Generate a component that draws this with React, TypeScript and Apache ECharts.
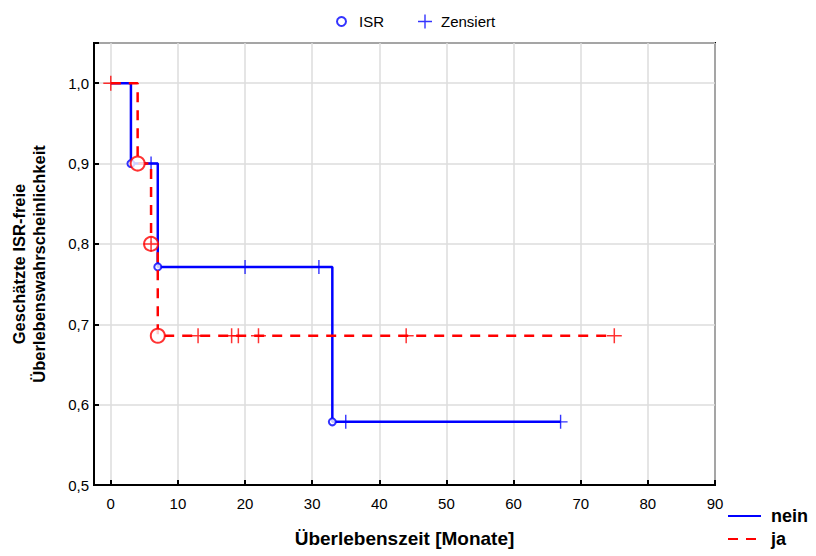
import React, { useEffect, useRef } from "react";
import * as echarts from "echarts";

// Kaplan-Meier step curves
const neinTimes = [0, 3, 7, 33, 67];
const neinSurv = [1.0, 0.9, 0.7714, 0.5786, 0.5786];
const jaTimes = [0, 4, 6, 7, 75];
const jaSurv = [1.0, 0.9, 0.8, 0.6857, 0.6857];

// ISR events (circles)
const neinEventTimes = [3, 7, 33];
const neinEventSurv = [0.9, 0.7714, 0.5786];
const jaEventTimes = [4, 6, 7];
const jaEventSurv = [0.9, 0.8, 0.6857];

// Censored (crosses)
const neinCensTimes = [6, 20, 31, 35, 67];
const neinCensSurv = [0.9, 0.7714, 0.7714, 0.5786, 0.5786];
const jaCensTimes = [0, 6, 13, 18, 19, 22, 44, 75];
const jaCensSurv = [1.0, 0.8, 0.6857, 0.6857, 0.6857, 0.6857, 0.6857, 0.6857];

const BLUE = "#0000ff";
const RED = "#ff0000";
const FONT = "Liberation Sans";
const PLUS = "path://M-0.1,-1H0.1V-0.1H1V0.1H0.1V1H-0.1V0.1H-1V-0.1H-0.1Z";

const zip = (a: number[], b: number[]) => a.map((v, i) => [v, b[i]]);

export default function App() {
  const ref = useRef<HTMLDivElement>(null);
  useEffect(() => {
    if (!ref.current) return;
    const chart = echarts.init(ref.current, undefined, { renderer: "svg" });
    chart.setOption({
      animation: false,
      backgroundColor: "#fff",
      textStyle: { fontFamily: FONT },
      grid: {
        left: 94,
        right: 101,
        top: 43,
        bottom: 71,
        show: true,
        borderColor: "#000",
        borderWidth: 2,
      },
      legend: [
        {
          data: ["ISR"],
          left: 331,
          top: 9,
          itemWidth: 25,
          itemHeight: 9,
          textStyle: { fontSize: 15, color: "#000", fontFamily: FONT },
        },
        {
          data: ["Zensiert"],
          left: 413,
          top: 9,
          itemWidth: 22,
          itemHeight: 14,
          textStyle: { fontSize: 15, color: "#000", fontFamily: FONT },
        },
        {
          data: ["nein", "ja"],
          orient: "vertical",
          left: 725,
          top: 505,
          padding: 2,
          itemWidth: 33,
          itemHeight: 14,
          itemGap: 5,
          itemStyle: { opacity: 0, color: "transparent", borderColor: "transparent", borderWidth: 0 },
          textStyle: { fontSize: 18, fontWeight: "bold", color: "#000", fontFamily: FONT, padding: [0, 0, 0, 5] },
        },
      ],
      xAxis: {
        type: "value",
        min: -2.5,
        max: 90,
        splitNumber: 9,
        name: "Überlebenszeit [Monate]",
        nameLocation: "middle",
        nameGap: 44,
        nameTextStyle: { fontSize: 19, fontWeight: "bold", color: "#000", fontFamily: FONT },
        axisLine: { onZero: false, lineStyle: { color: "#000", width: 2 } },
        axisTick: { inside: true, length: 5, lineStyle: { color: "#000", width: 2 } },
        axisLabel: {
          fontSize: 15,
          color: "#000",
          margin: 11,
          fontFamily: FONT,
          formatter: (v: number) => (v < 0 ? "" : String(v)),
        },
        splitLine: { show: true, lineStyle: { color: "#dcdcdc", width: 1.5 } },
      },
      yAxis: {
        type: "value",
        min: 0.5,
        max: 1.05,
        splitNumber: 5,
        name: "Geschätzte ISR-freie\nÜberlebenswahrscheinlichkeit",
        nameLocation: "middle",
        nameGap: 45,
        nameTextStyle: {
          fontSize: 16.5,
          fontWeight: "bold",
          color: "#000",
          lineHeight: 20,
          fontFamily: FONT,
        },
        axisLine: { show: true, onZero: false, lineStyle: { color: "#000", width: 2 } },
        axisTick: { show: true, inside: true, length: 5, lineStyle: { color: "#000", width: 2 } },
        axisLabel: {
          fontSize: 15,
          color: "#000",
          margin: 5,
          fontFamily: FONT,
          formatter: (v: number) => (v > 1.001 ? "" : v.toFixed(1).replace(".", ",")),
        },
        splitLine: { show: true, lineStyle: { color: "#dcdcdc", width: 1.5 } },
      },
      series: [
        {
          name: "nein",
          type: "line",
          step: "end",
          symbol: "none",
          data: zip(neinTimes, neinSurv),
          lineStyle: { color: BLUE, width: 2.5 },
          itemStyle: { color: BLUE },
          z: 2,
        },
        {
          name: "ISR",
          type: "scatter",
          symbol: "emptyCircle",
          symbolSize: 7,
          data: zip(neinEventTimes, neinEventSurv),
          itemStyle: { color: BLUE, borderColor: BLUE, borderWidth: 2 },
          z: 3,
        },
        {
          name: "Zensiert",
          type: "scatter",
          symbol: PLUS,
          symbolSize: 14,
          data: zip(neinCensTimes, neinCensSurv),
          itemStyle: { color: BLUE, borderWidth: 0 },
          z: 3,
        },
        {
          name: "ja",
          type: "line",
          step: "end",
          symbol: "none",
          data: zip(jaTimes, jaSurv),
          lineStyle: { color: RED, width: 2.5, type: [10, 8] },
          itemStyle: { color: RED },
          z: 4,
        },
        {
          name: "ISR ja",
          type: "scatter",
          symbol: "emptyCircle",
          symbolSize: 14,
          data: zip(jaEventTimes, jaEventSurv),
          itemStyle: { color: RED, borderColor: RED, borderWidth: 2 },
          z: 5,
        },
        {
          name: "Zensiert ja",
          type: "scatter",
          symbol: PLUS,
          symbolSize: 15,
          data: zip(jaCensTimes, jaCensSurv),
          itemStyle: { color: RED, borderWidth: 0 },
          z: 5,
        },
      ],
    });
    return () => chart.dispose();
  }, []);
  return <div ref={ref} style={{ width: 816, height: 556, position: "absolute", left: 0, top: 0 }} />;
}
